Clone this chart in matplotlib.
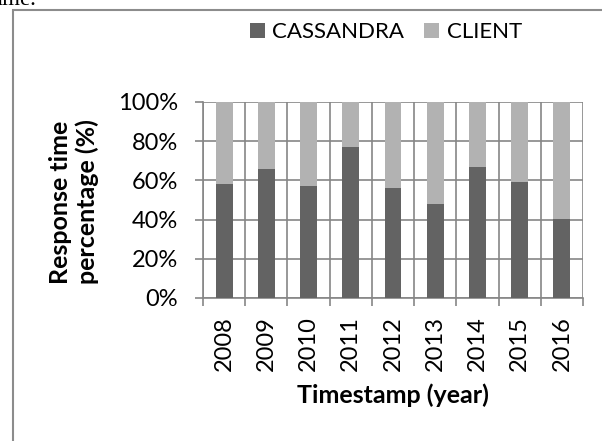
import numpy as np
import matplotlib
matplotlib.use("Agg")
import matplotlib.pyplot as plt
from matplotlib.patches import Rectangle

years = ["2008", "2009", "2010", "2011", "2012", "2013", "2014", "2015", "2016"]
cassandra = [58, 66, 57, 77, 56, 48, 67, 59, 40.5]
client = [100 - v for v in cassandra]
yticks = [0, 20, 40, 60, 80, 100]
ytick_labels = ["0%", "20%", "40%", "60%", "80%", "100%"]

DARK = "#636363"
LIGHT = "#b2b2b2"
GRID = "#868686"
FONT = "Lato"

W, H = 602, 441
fig = plt.figure(figsize=(W / 100, H / 100), dpi=100)
fig.patch.set_facecolor("white")

# surrounding frame (partially visible)
fig.patches.append(Rectangle((12.5 / W, -0.1), 1.2, 1 - 10 / H + 0.1,
                             transform=fig.transFigure, fill=False,
                             edgecolor="#8c8c8c", linewidth=1.5))
# clipped text fragment from surrounding document
fig.text(-3 / W, 1 - 5 / H, "ime.", fontfamily="Liberation Serif",
         fontsize=16.5, va="baseline", ha="left", color="black")

ax = fig.add_axes([203 / W, 1 - 298 / H, (583 - 203) / W, (298 - 102) / H])
x = np.arange(len(years))
ax.bar(x, cassandra, width=0.4, color=DARK, label="CASSANDRA", zorder=3)
ax.bar(x, client, width=0.4, bottom=cassandra, color=LIGHT, label="CLIENT", zorder=3)

ax.set_xlim(-0.5, len(years) - 0.5)
ax.set_ylim(0, 100)
ax.set_yticks(yticks)
ax.set_yticklabels(ytick_labels, fontfamily=FONT, fontsize=17)
ax.set_xticks(x)
ax.set_xticklabels(years, rotation=90, fontfamily=FONT, fontsize=17)
ax.set_xticks(np.arange(-0.5, len(years), 1), minor=True)

ax.tick_params(axis="x", which="major", length=0, pad=13)
ax.tick_params(axis="x", which="minor", length=6, width=1.2, color=GRID, direction="out")
ax.tick_params(axis="y", length=6, width=1.2, color=GRID, direction="out", pad=12)

ax.grid(axis="y", which="major", color=GRID, linewidth=1.2, zorder=1)
ax.grid(axis="x", which="minor", color=GRID, linewidth=1.2, zorder=1)
ax.set_axisbelow(True)

for s in ["top", "right"]:
    ax.spines[s].set_visible(False)
for s in ["left", "bottom"]:
    ax.spines[s].set_color(GRID)
    ax.spines[s].set_linewidth(1.2)

fig.text(74 / W, 1 - 202 / H, "Response time\npercentage (%)", rotation=90,
         ha="center", va="center", multialignment="center",
         fontfamily=FONT, fontsize=18, fontweight="bold", linespacing=1.15)
fig.text(393 / W, 1 - 395 / H, "Timestamp (year)", ha="center", va="center",
         fontfamily=FONT, fontsize=18, fontweight="bold")

handles, labels = ax.get_legend_handles_labels()
fig.legend(handles, labels, loc="center", bbox_to_anchor=(386 / W, 1 - 32 / H),
           ncol=2, frameon=False, prop={"family": FONT, "size": 16},
           handlelength=0.65, handleheight=0.65, handletextpad=0.35,
           columnspacing=0.9)

fig.savefig("out.png", dpi=100)
